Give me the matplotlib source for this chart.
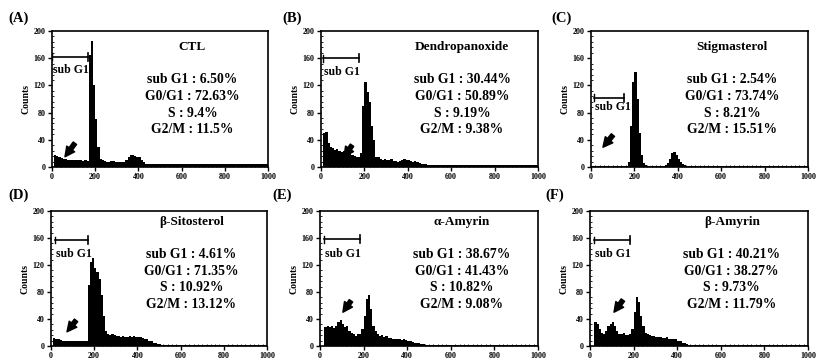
import matplotlib.pyplot as plt
from matplotlib.ticker import MultipleLocator
import numpy as np

# histogram counts, one value per 10-channel bin from 0 to 990
ctl = [
    0, 18, 16, 15, 13, 12, 12, 11, 10, 10,
    10, 11, 10, 11, 9, 10, 9, 165, 185, 120,
    70, 30, 12, 10, 9, 8, 8, 9, 9, 8,
    8, 7, 7, 8, 10, 14, 18, 17, 16, 15,
    14, 10, 7, 5, 5, 5, 4, 4, 4, 4,
    4, 4, 4, 4, 4, 4, 4, 4, 4, 4,
    4, 4, 4, 4, 4, 4, 4, 4, 4, 4,
    4, 4, 4, 4, 4, 4, 4, 4, 4, 4,
    4, 4, 4, 4, 4, 4, 4, 4, 4, 4,
    4, 4, 4, 4, 4, 4, 4, 4, 4, 4,
]
dendro = [
    0, 50, 52, 35, 30, 28, 25, 27, 24, 22,
    24, 20, 18, 22, 18, 16, 15, 14, 20, 90,
    125, 110, 95, 60, 40, 15, 15, 12, 10, 12,
    10, 10, 12, 9, 9, 8, 9, 10, 12, 10,
    10, 9, 8, 9, 8, 6, 5, 5, 4, 3,
    3, 3, 3, 3, 3, 3, 3, 3, 3, 3,
    3, 3, 3, 3, 3, 3, 3, 3, 3, 3,
    3, 3, 3, 3, 3, 3, 3, 3, 3, 3,
    3, 3, 3, 3, 3, 3, 3, 3, 3, 3,
    3, 3, 3, 3, 3, 3, 3, 3, 3, 3,
]
stigma = [
    1, 1, 1, 1, 1, 1, 1, 1, 1, 1,
    1, 1, 1, 1, 1, 1, 1, 8, 60, 125,
    140, 100, 50, 18, 6, 3, 2, 2, 2, 2,
    2, 2, 2, 2, 3, 6, 12, 20, 22, 17,
    12, 7, 4, 3, 2, 2, 1, 1, 1, 1,
    1, 1, 1, 1, 1, 1, 1, 1, 1, 1,
    1, 1, 1, 1, 1, 1, 1, 1, 1, 1,
    1, 1, 1, 1, 1, 1, 1, 1, 1, 1,
    1, 1, 1, 1, 1, 1, 1, 1, 1, 1,
    1, 1, 1, 1, 1, 1, 1, 1, 1, 1,
]
b_sito = [
    0, 12, 11, 10, 9, 8, 8, 7, 8, 7,
    7, 8, 7, 8, 8, 7, 8, 90, 125, 130,
    115, 110, 100, 75, 45, 22, 18, 17, 18, 16,
    15, 15, 14, 15, 14, 14, 15, 14, 15, 14,
    14, 13, 12, 11, 10, 8, 7, 5, 4, 3,
    3, 2, 2, 2, 2, 2, 2, 2, 2, 2,
    2, 2, 2, 2, 2, 2, 2, 2, 2, 2,
    2, 2, 2, 2, 2, 2, 2, 2, 2, 2,
    2, 2, 2, 2, 2, 2, 2, 2, 2, 2,
    2, 2, 2, 2, 2, 2, 2, 2, 2, 2,
]
a_amy = [
    0, 0, 28, 30, 28, 29, 27, 30, 35, 38,
    32, 28, 30, 22, 20, 18, 15, 18, 18, 25,
    45, 70, 75, 55, 30, 22, 18, 15, 16, 14,
    15, 12, 12, 11, 10, 10, 10, 9, 10, 9,
    8, 7, 6, 5, 5, 4, 3, 3, 2, 2,
    2, 1, 1, 1, 1, 1, 1, 1, 1, 1,
    1, 1, 1, 1, 1, 1, 1, 1, 1, 1,
    1, 1, 1, 1, 1, 1, 1, 1, 1, 1,
    1, 1, 1, 1, 1, 1, 1, 1, 1, 1,
    1, 1, 1, 1, 1, 1, 1, 1, 1, 1,
]
b_amy = [
    0, 0, 35, 32, 25, 20, 18, 22, 30, 33,
    36, 30, 22, 18, 18, 20, 16, 16, 18, 25,
    50, 72, 65, 45, 30, 20, 18, 16, 15, 15,
    14, 13, 14, 12, 12, 13, 11, 11, 10, 10,
    8, 7, 5, 4, 3, 2, 2, 1, 1, 1,
    1, 1, 1, 1, 1, 1, 1, 1, 1, 1,
    1, 1, 1, 1, 1, 1, 1, 1, 1, 1,
    1, 1, 1, 1, 1, 1, 1, 1, 1, 1,
    1, 1, 1, 1, 1, 1, 1, 1, 1, 1,
    1, 1, 1, 1, 1, 1, 1, 1, 1, 1,
]

letters = ['(A)', '(B)', '(C)', '(D)', '(E)', '(F)']
names = ['CTL', 'Dendropanoxide', 'Stigmasterol', 'β-Sitosterol', 'α-Amyrin', 'β-Amyrin']
sub_g1 = ['6.50%', '30.44%', '2.54%', '4.61%', '38.67%', '40.21%']
g0_g1 = ['72.63%', '50.89%', '73.74%', '71.35%', '41.43%', '38.27%']
s_phase = ['9.4%', '9.19%', '8.21%', '10.92%', '10.82%', '9.73%']
g2_m = ['11.5%', '9.38%', '15.51%', '13.12%', '9.08%', '11.79%']
series = [ctl, dendro, stigma, b_sito, a_amy, b_amy]

# sub G1 gate: x start, x end, y, label y
gates = [(0, 167, 162, 143), (10, 175, 160, 140), (15, 152, 102, 88),
         (18, 171, 157, 136), (18, 183, 158, 136), (18, 183, 157, 136)]
# arrow head / tail in data coords
arrows = [((60, 15), (106, 35)), ((106, 15), (143, 32)), ((55, 29), (101, 47)),
          ((74, 21), (116, 38)), ((105, 50), (142, 67)), ((110, 50), (151, 68))]

W, H = 827, 362
boxes = [(52, 268, 31, 167), (321, 538, 31, 167), (591, 808, 31, 167),
         (51, 267, 211, 346), (320, 538, 211, 346), (590, 808, 211, 346)]
label_pos = [(8, 18), (282, 18), (551, 18), (8, 195), (272, 195), (545, 195)]

serif = 'Liberation Serif'
fig = plt.figure(figsize=(W / 100, H / 100), dpi=100)
bins = np.arange(0, 1000, 10)

for i in range(6):
    l, r, t, b = boxes[i]
    ax = fig.add_axes([l / W, 1 - b / H, (r - l) / W, (b - t) / H])
    ax.bar(bins, series[i], width=10, align='edge', color='black', linewidth=0)
    ax.set_xlim(0, 1000)
    ax.set_ylim(0, 200)
    ax.xaxis.set_major_locator(MultipleLocator(200))
    ax.yaxis.set_major_locator(MultipleLocator(40))
    ax.xaxis.set_minor_locator(MultipleLocator(20))
    ax.yaxis.set_minor_locator(MultipleLocator(8))
    ax.tick_params(which='major', length=3, width=1, labelsize=5.8, pad=1.5)
    ax.tick_params(which='minor', length=1.5, width=0.6, direction='in')
    for lab in ax.get_xticklabels() + ax.get_yticklabels():
        lab.set_fontfamily(serif)
        lab.set_fontweight('bold')
    for sp in ax.spines.values():
        sp.set_linewidth(1.2)
    ax.set_ylabel('Counts', fontfamily=serif, fontweight='bold', fontsize=7, labelpad=2)

    tx = 650
    ty = 177 if i < 3 else 184
    ax.text(tx, ty, names[i], ha='center', va='center', fontfamily=serif,
            fontweight='bold', fontsize=9.5)
    lines = ['sub G1 : ' + sub_g1[i], 'G0/G1 : ' + g0_g1[i],
             'S : ' + s_phase[i], 'G2/M : ' + g2_m[i]]
    y0 = 128 if i < 3 else 135
    for k, txt in enumerate(lines):
        ax.text(tx, y0 - k * 24.5, txt, ha='center', va='center', fontfamily=serif,
                fontweight='bold', fontsize=9.8)

    x1, x2, gy, ly = gates[i]
    ax.plot([x1, x2], [gy, gy], color='black', lw=1.2)
    ax.plot([x1, x1], [gy - 5, gy + 5], color='black', lw=1)
    ax.plot([x2, x2], [gy - 6, gy + 6], color='black', lw=1.2)
    ax.text(x1 + 5, ly, 'sub G1', ha='left', va='center', fontfamily=serif,
            fontweight='bold', fontsize=8.5)

    head, tail = arrows[i]
    ax.annotate('', xy=head, xytext=tail,
                arrowprops=dict(arrowstyle='simple,head_length=0.7,head_width=0.7,tail_width=0.3',
                                color='black', shrinkA=0, shrinkB=0))

    px, py = label_pos[i]
    fig.text(px / W, 1 - py / H, letters[i], ha='left', va='center', fontfamily=serif,
             fontweight='bold', fontsize=10.5)

fig.savefig('out.png', dpi=100)
